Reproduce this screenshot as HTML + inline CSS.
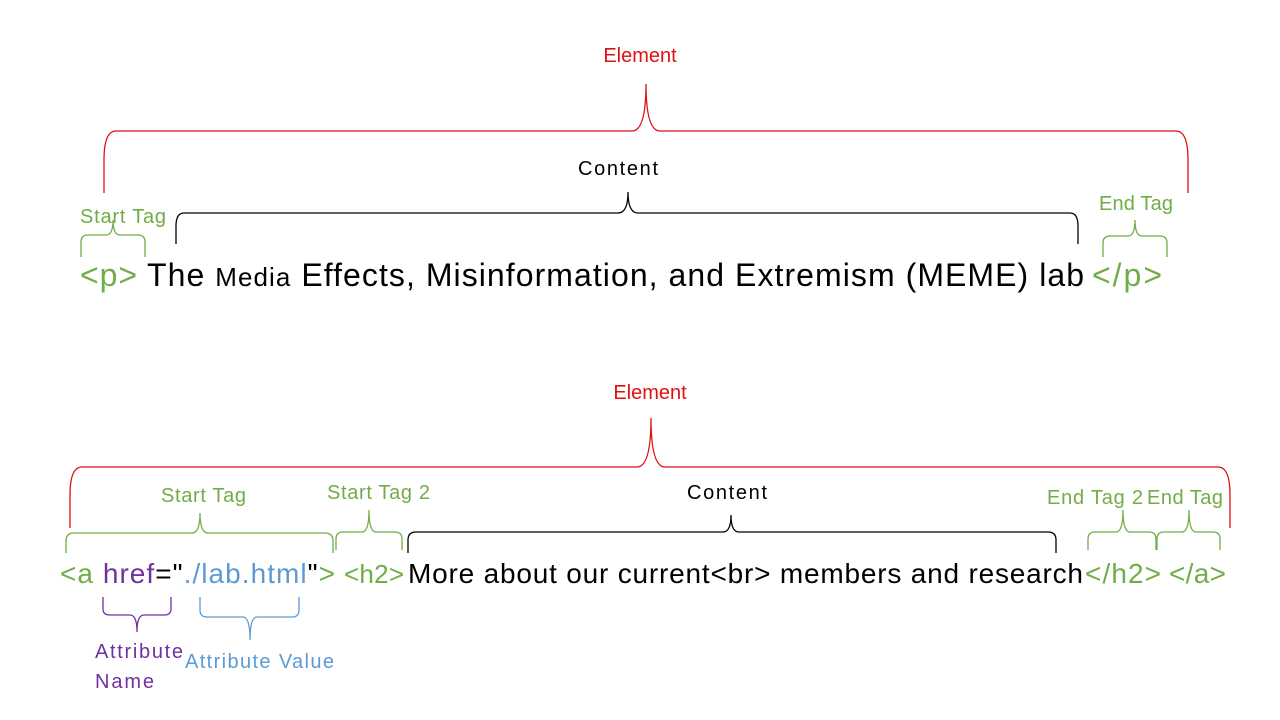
<!DOCTYPE html>
<html><head><meta charset="utf-8"><style>
html,body{margin:0;padding:0;background:#fff;}
svg{display:block;font-family:"Liberation Sans",sans-serif;}
</style></head><body>
<svg width="1280" height="720" viewBox="0 0 1280 720" xmlns="http://www.w3.org/2000/svg">
<g fill="none" stroke-width="1.3">
<path stroke="#e01010" d="M104 193 L104 160 Q104 131 116 131 L632 131 Q646 131 646 84 Q646 131 660 131 L1176 131 Q1188 131 1188 160 L1188 193"/>
<path stroke="#000" d="M176 244 L176 226 Q176 213 184 213 L618 213 Q628 213 628 192 Q628 213 638 213 L1070 213 Q1078 213 1078 226 L1078 244"/>
<path stroke="#70ad47" d="M81 257 L81 242 Q81 235 88 235 L106 235 Q113 235 113 220 Q113 235 120 235 L138 235 Q145 235 145 242 L145 257"/>
<path stroke="#70ad47" d="M1103 257 L1103 243 Q1103 236 1110 236 L1128 236 Q1135 236 1135 220 Q1135 236 1142 236 L1160 236 Q1167 236 1167 243 L1167 257"/>
<path stroke="#e01010" d="M70 528 L70 495 Q70 467 82 467 L637 467 Q651 467 651 418 Q651 467 665 467 L1218 467 Q1230 467 1230 495 L1230 528"/>
<path stroke="#70ad47" d="M66 553 L66 541 Q66 533 74 533 L192 533 Q200 533 200 513 Q200 533 208 533 L325 533 Q333 533 333 541 L333 553"/>
<path stroke="#70ad47" d="M336 550 L336 539 Q336 532 343 532 L362 532 Q369 532 369 510 Q369 532 376 532 L395 532 Q402 532 402 539 L402 550"/>
<path stroke="#000" d="M408 553 L408 540 Q408 532 416 532 L723 532 Q731 532 731 515 Q731 532 739 532 L1048 532 Q1056 532 1056 540 L1056 553"/>
<path stroke="#70ad47" d="M1088 550 L1088 539 Q1088 532 1095 532 L1116 532 Q1123 532 1123 510 Q1123 532 1130 532 L1149 532 Q1156 532 1156 539 L1156 550"/>
<path stroke="#70ad47" d="M1157 550 L1157 539 Q1157 532 1164 532 L1182 532 Q1189 532 1189 510 Q1189 532 1196 532 L1213 532 Q1220 532 1220 539 L1220 550"/>
<path stroke="#7030a0" d="M103 597 L103 609 Q103 615 110 615 L130 615 Q137 615 137 632 Q137 615 144 615 L164 615 Q171 615 171 609 L171 597"/>
<path stroke="#5b9bd5" d="M200 597 L200 610 Q200 617 207 617 L243 617 Q250 617 250 640 Q250 617 257 617 L292 617 Q299 617 299 610 L299 597"/>
</g>
<g font-size="20">
<text x="640" y="62" fill="#e01010" text-anchor="middle">Element</text>
<text x="618" y="175" fill="#000" text-anchor="middle" textLength="80">Content</text>
<text x="80" y="223" fill="#70ad47" textLength="86">Start Tag</text>
<text x="1099" y="210" fill="#70ad47" textLength="74">End Tag</text>
<text x="650" y="399" fill="#e01010" text-anchor="middle">Element</text>
<text x="161" y="502" fill="#70ad47" textLength="85">Start Tag</text>
<text x="327" y="499" fill="#70ad47" textLength="103">Start Tag 2</text>
<text x="687" y="499" fill="#000" textLength="80">Content</text>
<text x="1047" y="504" fill="#70ad47" textLength="96">End Tag 2</text>
<text x="1147" y="504" fill="#70ad47" textLength="76">End Tag</text>
<text x="95" y="658" fill="#7030a0" textLength="88">Attribute</text>
<text x="95" y="688" fill="#7030a0" textLength="59">Name</text>
<text x="185" y="668" fill="#5b9bd5" textLength="149">Attribute Value</text>
</g>
<g font-size="32">
<text x="80" y="286" fill="#70ad47" textLength="57">&lt;p&gt;</text>
<text x="147" y="286" fill="#000" textLength="937">The <tspan font-size="26">Media</tspan> Effects, Misinformation, and Extremism (MEME) lab</text>
<text x="1092" y="286" fill="#70ad47" textLength="70">&lt;/p&gt;</text>
</g>
<g font-size="28">
<text x="60" y="583" textLength="275"><tspan fill="#70ad47">&lt;a </tspan><tspan fill="#7030a0">href</tspan><tspan fill="#000">="</tspan><tspan fill="#5b9bd5">./lab.html</tspan><tspan fill="#000">"</tspan><tspan fill="#70ad47">&gt;</tspan></text>
<text x="344" y="583" fill="#70ad47" font-size="26" textLength="60">&lt;h2&gt;</text>
<text x="408" y="583" fill="#000" textLength="675">More about our current&lt;br&gt; members and research</text>
<text x="1085" y="583" fill="#70ad47" textLength="76">&lt;/h2&gt;</text>
<text x="1169" y="583" fill="#70ad47" textLength="57">&lt;/a&gt;</text>
</g>
</svg>
</body></html>
